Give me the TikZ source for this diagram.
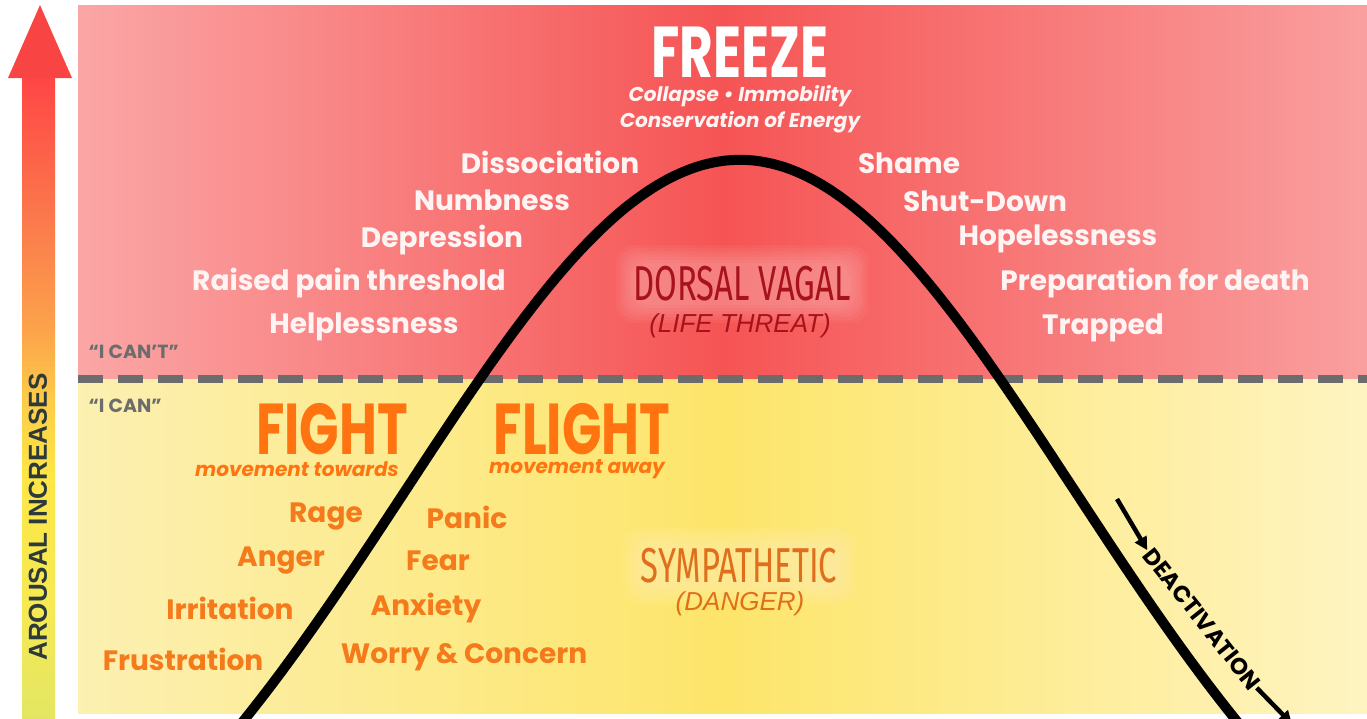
\documentclass[tikz,border=0pt]{standalone}
\usepackage{fontspec}
\setmainfont{Poppins}
\setsansfont{Liberation Sans}
\newfontfamily\condfont{Poppins}[FakeStretch=0.72]
\newfontfamily\thinfont{Fira Sans}[FakeStretch=0.67]
\usetikzlibrary{arrows.meta}

\definecolor{redL}{HTML}{FBA6A6}
\definecolor{redM}{HTML}{F65454}
\definecolor{redR}{HTML}{FA9F9F}
\definecolor{yelL}{HTML}{FCF0B2}
\definecolor{yelM}{HTML}{FDE56A}
\definecolor{yelR}{HTML}{FEF4C2}
\definecolor{arB}{HTML}{E4E663}
\definecolor{arA}{HTML}{F6E953}
\definecolor{arC}{HTML}{FDE646}
\definecolor{arD}{HTML}{FDCB48}
\definecolor{arE}{HTML}{FCA54B}
\definecolor{arF}{HTML}{FB794C}
\definecolor{arT}{HTML}{FF4646}
\definecolor{headred}{HTML}{F94444}
\definecolor{wordwhite}{HTML}{FFF4F4}
\definecolor{wordorange}{HTML}{F57A1C}
\definecolor{bigorange}{HTML}{FF7410}
\definecolor{dvred}{HTML}{A8121B}
\definecolor{symorange}{HTML}{DF6F1C}
\definecolor{cangray}{HTML}{6C6C6C}
\definecolor{arousaltext}{HTML}{2E3A3A}

\pgfdeclareverticalshading{arousal}{100bp}{color(0bp)=(arB); color(25bp)=(arB);
  color(34bp)=(arA); color(44bp)=(arC); color(50bp)=(arD); color(55bp)=(arE);
  color(64bp)=(arF); color(75bp)=(arT); color(100bp)=(arT)}

\tikzset{
  redword/.style={text=wordwhite, inner sep=0.5pt, font=\fontsize{28}{31}\selectfont\bfseries},
  yelword/.style={text=wordorange, inner sep=0.5pt, font=\fontsize{28}{31}\selectfont\bfseries},
  bigword/.style={inner sep=0pt, font=\condfont\fontsize{72}{75}\selectfont\bfseries},
  subword/.style={inner sep=0pt, font=\fontsize{20}{22}\selectfont\bfseries\itshape},
  statename/.style={inner sep=0.5pt, font=\thinfont\fontsize{49}{52}\selectfont},
  statesub/.style={inner sep=0.5pt, font=\sffamily\fontsize{26}{28}\selectfont\itshape},
  canlabel/.style={anchor=west, inner sep=0.5pt, text=cangray, font=\fontsize{19}{21}\selectfont\bfseries},
  glow/.style={white, opacity=0.045, rounded corners=18pt}
}

\begin{document}
\begin{tikzpicture}[x=1pt,y=-1pt]
  \useasboundingbox (0,0) rectangle (1367,718);
  % backgrounds
  \shade[left color=redL, right color=redR, middle color=redM] (78,5) rectangle (1367,379);
  \shade[left color=yelL, right color=yelR, middle color=yelM] (78,379) rectangle (1367,713);
  \draw[cangray, line width=8pt, dash pattern=on 25pt off 15pt] (78,379) -- (1367,379);

  % arousal arrow
  \shade[shading=arousal] (22,78) rectangle (55,718);
  \fill[headred] (40,5) -- (8,78) -- (72,78) -- cycle;
  \node[rotate=90, text=arousaltext, font=\sffamily\fontsize{26}{28}\selectfont\bfseries]
    (arousal) at (38,517) {AROUSAL INCREASES};

  % glows
  \foreach \s in {-2,1,...,16} {
    \fill[glow] ({632-\s},{261-\s}) rectangle ({852+\s},{307+\s});
    \fill[glow] ({638-\s},{543-\s}) rectangle ({840+\s},{589+\s});
  }

  % the curve
  \begin{scope}
    \clip (0,0) rectangle (1367,718);
    \draw[line width=10pt, smooth, samples=90, domain=225:1260]
      plot ({\x},{1000-840*exp(-((\x-740)/100)^2/22.38)});
  \end{scope}

  \draw
    (740,52) node[bigword, text=white] (freeze){FREEZE}
    (740,96) node[subword, text=wordwhite] (collapse){Collapse • Immobility}
    (740,122) node[subword, text=wordwhite] (conserv){Conservation of Energy}
    (550,162) node[redword] (dissoc){Dissociation}
    (492,200) node[redword] (numb){Numbness}
    (442,240) node[redword] (depress){Depression}
    (349,283) node[redword] (pain){Raised pain threshold}
    (364,327) node[redword] (helpless){Helplessness}
    (909,163) node[redword] (shame){Shame}
    (985,201) node[redword] (shut){Shut-Down}
    (1058,239) node[redword] (hopeless){Hopelessness}
    (1155,283) node[redword] (death){Preparation for death}
    (1103,328) node[redword] (trapped){Trapped}
    (742,284) node[statename, text=dvred] (dorsal){DORSAL VAGAL}
    (740,326) node[statesub, text=dvred] (threat){(LIFE THREAT)}
    (88,352) node[canlabel] (cant){“I CAN’T”}
    (88,406) node[canlabel] (can){“I CAN”};

  \draw
    (332,429) node[bigword, text=bigorange] (fight){FIGHT}
    (297,469) node[subword, text=bigorange] (towards){movement towards}
    (582,429) node[bigword, text=bigorange] (flight){FLIGHT}
    (577,469) node[subword, text=bigorange] (away){movement away}
    (326,517) node[yelword] (rage){Rage}
    (281,561) node[yelword] (anger){Anger}
    (230,608) node[yelword] (irrit){Irritation}
    (183,659) node[yelword] (frust){Frustration}
    (467,517) node[yelword] (panic){Panic}
    (438,561) node[yelword] (fear){Fear}
    (426,608) node[yelword] (anxiety){Anxiety}
    (464,657) node[yelword] (worry){Worry \& Concern}
    (739,566) node[statename, text=symorange] (symp){SYMPATHETIC}
    (740,604) node[statesub, text=symorange] (danger){(DANGER)};

  % deactivation
  \node[rotate=-51.5, inner sep=1pt, font=\fontsize{23}{25}\selectfont\bfseries] (deact) at (1202,619) {DEACTIVATION};
  \coordinate (dstart) at (1117,499);
  \coordinate (dend) at (1292,724);
  \begin{scope}[line width=4.5pt, -{Triangle[length=13pt,width=13pt]}]
    \draw (dstart) -- (deact.west);
    \draw (deact.east) -- (dend);
  \end{scope}
\end{tikzpicture}
\end{document}
